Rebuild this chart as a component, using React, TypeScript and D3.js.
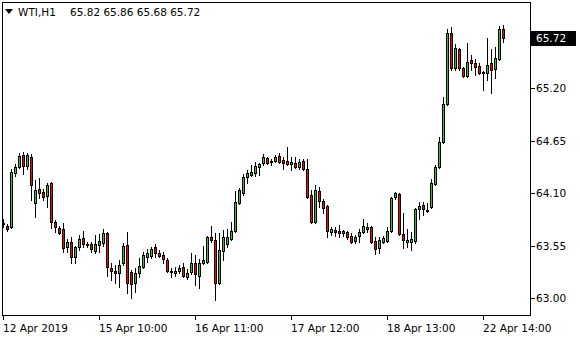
import React from "react";
import * as d3 from "d3";

const symbolTitle = "WTI,H1";
const headerValues = ["65.82", "65.86", "65.68", "65.72"];
const priceTicks = [65.2, 64.65, 64.1, 63.55, 63.0];
const lastPrice = 65.72;
const timeTickIndex = [0, 24, 48, 72, 96, 120];
const timeTickLabels = ["12 Apr 2019", "15 Apr 10:00", "16 Apr 11:00", "17 Apr 12:00", "18 Apr 13:00", "22 Apr 14:00"];

const opens = [63.78,63.75,63.74,64.31,64.37,64.50,64.38,64.48,64.00,64.14,64.11,64.07,64.20,63.80,63.73,63.72,63.53,63.59,63.43,63.53,63.63,63.57,63.57,63.49,63.56,63.58,63.68,63.31,63.28,63.26,63.37,63.56,63.27,63.16,63.26,63.32,63.43,63.44,63.53,63.47,63.45,63.40,63.28,63.26,63.28,63.32,63.22,63.27,63.37,63.23,63.37,63.38,63.64,63.61,63.16,63.49,63.57,63.62,63.70,64.00,64.10,64.27,64.29,64.31,64.37,64.41,64.47,64.44,64.44,64.49,64.45,64.44,64.40,64.41,64.37,64.44,64.35,64.08,63.80,64.12,64.02,63.96,63.69,63.71,63.70,63.68,63.69,63.65,63.60,63.65,63.69,63.72,63.74,63.60,63.52,63.59,63.60,63.70,64.06,64.09,63.67,63.59,63.59,63.60,63.93,63.97,63.92,63.95,64.19,64.37,64.63,65.03,65.78,65.41,65.61,65.41,65.33,65.49,65.46,65.43,65.37,65.36,65.46,65.40,65.50,65.82];
const highs = [63.83,63.78,64.35,64.40,64.52,64.53,64.52,64.51,64.24,64.26,64.14,64.20,64.22,63.82,63.75,63.79,63.62,63.64,63.54,63.66,63.70,63.59,63.59,63.66,63.67,63.72,63.69,63.37,63.35,63.40,63.58,63.69,63.29,63.31,63.42,63.48,63.51,63.53,63.57,63.50,63.48,63.42,63.31,63.32,63.35,63.37,63.30,63.47,63.45,63.41,63.54,63.65,63.75,63.68,63.68,63.71,63.72,63.80,64.12,64.15,64.30,64.34,64.39,64.42,64.41,64.51,64.48,64.46,64.50,64.52,64.48,64.58,64.48,64.48,64.46,64.46,64.46,64.13,64.18,64.16,64.04,63.97,63.74,63.74,63.76,63.71,63.70,63.68,63.66,63.72,63.83,63.79,63.75,63.64,63.64,63.65,63.74,64.06,64.11,64.10,63.89,63.72,63.69,63.94,64.01,64.01,64.00,64.25,64.39,64.69,65.11,65.82,65.84,65.66,65.62,65.42,65.67,65.55,65.50,65.46,65.38,65.72,65.61,65.63,65.85,65.86];
const lows = [63.74,63.70,63.73,64.28,64.36,64.30,64.35,64.03,63.85,64.05,64.03,63.95,63.73,63.69,63.67,63.48,63.48,63.37,63.37,63.50,63.53,63.53,63.48,63.47,63.48,63.54,63.23,63.19,63.16,63.12,63.35,63.05,63.00,63.06,63.22,63.31,63.38,63.42,63.43,63.43,63.37,63.27,63.22,63.23,63.26,63.22,63.20,63.25,63.14,63.10,63.36,63.37,63.59,62.98,63.15,63.40,63.53,63.61,63.69,63.98,64.08,64.20,64.28,64.28,64.29,64.39,64.40,64.39,64.42,64.41,64.35,64.39,64.34,64.36,64.35,64.34,64.05,63.79,63.79,63.95,63.89,63.64,63.66,63.65,63.64,63.65,63.62,63.58,63.58,63.59,63.68,63.69,63.58,63.46,63.47,63.58,63.59,63.69,64.04,63.66,63.52,63.53,63.50,63.58,63.83,63.87,63.90,63.94,64.18,64.36,64.62,65.02,65.39,65.39,65.39,65.32,65.32,65.39,65.34,65.35,65.18,65.28,65.15,65.30,65.49,65.68];
const closes = [63.79,63.72,64.32,64.37,64.49,64.38,64.50,64.18,64.13,64.10,64.06,64.18,63.80,63.74,63.68,63.52,63.59,63.43,63.53,63.62,63.57,63.56,63.51,63.57,63.60,63.68,63.32,63.28,63.26,63.35,63.54,63.16,63.15,63.26,63.34,63.45,63.47,63.51,63.47,63.44,63.41,63.28,63.27,63.28,63.31,63.23,63.26,63.37,63.25,63.37,63.40,63.64,63.61,63.16,63.50,63.64,63.64,63.70,64.01,64.13,64.27,64.31,64.32,64.38,64.40,64.48,64.41,64.42,64.48,64.42,64.41,64.40,64.42,64.37,64.42,64.35,64.06,63.80,64.13,64.02,63.94,63.70,63.72,63.69,63.68,63.70,63.64,63.59,63.64,63.69,63.75,63.74,63.59,63.51,63.61,63.63,63.70,64.05,64.10,63.67,63.61,63.61,63.62,63.93,63.96,63.93,63.91,64.20,64.37,64.63,65.03,65.78,65.41,65.62,65.41,65.33,65.47,65.46,65.42,65.36,65.36,65.44,65.39,65.51,65.82,65.72];

const FONT = "DejaVu Sans, Verdana, sans-serif";
const BULL = "#2fc42f";
const BEAR = "#ff0000";

export default function App() {
  const W = 580, H = 340;
  const left = 2.5, top = 2.5, right = 530.5, bottom = 315.5;
  const n = opens.length;
  const x = d3.scaleLinear().domain([0, n - 1]).range([3, 3 + 4 * (n - 1)]);
  const y = d3.scaleLinear().domain([63.0, 66.0]).range([298, 298 - 3 * 95.45]);

  const candles = d3.range(n).map((i) => {
    const cx = Math.round(x(i));
    const o = opens[i], c = closes[i];
    const yH = Math.round(y(highs[i]));
    const yL = Math.round(y(lows[i]));
    const bt = Math.round(y(Math.max(o, c)));
    const bb = Math.round(y(Math.min(o, c)));
    const color = c > o ? BULL : c < o ? BEAR : "#000";
    const inner = bb - bt - 1;
    return (
      <g key={i}>
        <rect x={cx} y={yH} width={1} height={yL - yH + 1} fill="#000" />
        <rect x={cx - 1} y={bt} width={3} height={bb - bt + 1} fill="#000" />
        {inner > 0 && <rect x={cx} y={bt + 1} width={1} height={inner} fill={color} />}
      </g>
    );
  });

  const yLast = y(lastPrice);

  return (
    <svg width={W} height={H} style={{ position: "absolute", left: 0, top: 0, background: "#fff" }} shapeRendering="crispEdges">
      <rect x={0} y={0} width={W} height={H} fill="#fff" />
      <g clipPath="url(#plotclip)">{candles}</g>
      <defs>
        <clipPath id="plotclip">
          <rect x={left} y={top} width={right - left} height={bottom - top} />
        </clipPath>
      </defs>
      <rect x={left} y={top} width={right - left} height={bottom - top} fill="none" stroke="#000" strokeWidth={1} />
      {/* price axis */}
      {priceTicks.map((p) => (
        <g key={p}>
          <line x1={right} x2={right + 4} y1={Math.round(y(p)) + 0.5} y2={Math.round(y(p)) + 0.5} stroke="#000" />
          <text x={536} y={y(p) + 4} fontFamily={FONT} fontSize={10.5} fill="#000" shapeRendering="auto">
            {p.toFixed(2)}
          </text>
        </g>
      ))}
      <rect x={right} y={Math.round(yLast) - 7} width={45} height={15} fill="#000" />
      <text x={536} y={yLast + 4} fontFamily={FONT} fontSize={10.5} fill="#fff">
        {lastPrice.toFixed(2)}
      </text>
      {/* time axis */}
      {timeTickIndex.map((idx, k) => {
        const tx = Math.round(x(idx)) + 0.5;
        return (
          <g key={idx}>
            <line x1={tx} x2={tx} y1={bottom} y2={bottom + 4} stroke="#000" />
            <text x={tx - 0.5} y={332} fontFamily={FONT} fontSize={10.5} fill="#000">
              {timeTickLabels[k]}
            </text>
          </g>
        );
      })}
      {/* header */}
      <path d="M5,9 L13,9 L9,14 Z" fill="#000" shapeRendering="auto" />
      <text x={18} y={16} fontFamily={FONT} fontSize={10.5} fill="#000">
        {symbolTitle}
      </text>
      <text x={70} y={16} fontFamily={FONT} fontSize={10.5} fill="#000">
        {headerValues.join(" ")}
      </text>
    </svg>
  );
}
